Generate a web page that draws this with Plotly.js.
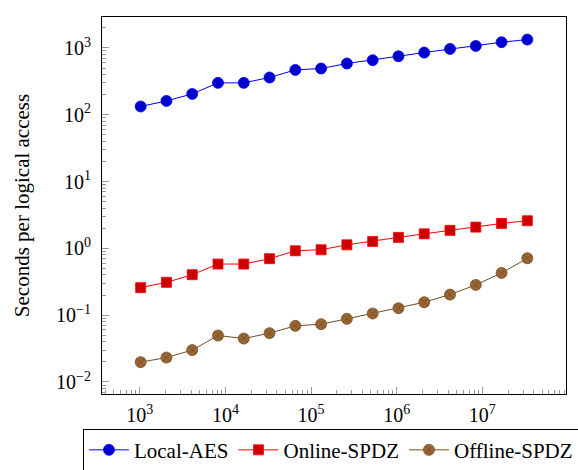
<!DOCTYPE html>
<html>
<head>
<meta charset="utf-8">
<script src="https://cdn.plot.ly/plotly-3.0.1.min.js"></script>
<style>html,body{margin:0;padding:0;background:#fff;}#chart{width:578px;height:470px;}</style>
</head>
<body>
<div id="chart"></div>
<script>
// Number of logical blocks (2^10 .. 2^25)
const sizes = [1024, 2048, 4096, 8192, 16384, 32768, 65536, 131072, 262144, 524288,
  1048576, 2097152, 4194304, 8388608, 16777216, 33554432];
const localAES = [133, 161, 205, 300, 300, 361, 469, 492, 585, 655, 751, 853, 966, 1071, 1217, 1335];
const onlineSPDZ = [0.258, 0.310, 0.403, 0.582, 0.582, 0.700, 0.920, 0.953, 1.13, 1.27, 1.46, 1.65, 1.86, 2.08, 2.36, 2.59];
const offlineSPDZ = [0.0198, 0.0232, 0.030, 0.0496, 0.0447, 0.0538, 0.0692, 0.0733, 0.0881, 0.106, 0.127, 0.156, 0.203, 0.284, 0.428, 0.711];
const seriesNames = ['Local-AES', 'Online-SPDZ', 'Offline-SPDZ'];
const yTitle = 'Seconds per logical access';

const xTickVals = [1e3, 1e4, 1e5, 1e6, 1e7];
const xTickText = ['10<sup>3</sup>', '10<sup>4</sup>', '10<sup>5</sup>', '10<sup>6</sup>', '10<sup>7</sup>'];
const yTickVals = [1e-2, 1e-1, 1e0, 1e1, 1e2, 1e3];
const yTickText = ['10<sup>\u22122</sup>', '10<sup>\u22121</sup>', '10<sup>0</sup>', '10<sup>1</sup>', '10<sup>2</sup>', '10<sup>3</sup>'];

const font = '"Liberation Serif", "Times New Roman", serif';

const traces = [
  {x: sizes, y: localAES, name: seriesNames[0], mode: 'lines+markers', type: 'scatter',
   line: {color: 'rgb(0,0,255)', width: 1},
   marker: {symbol: 'circle', size: 11, color: 'rgb(0,0,204)', line: {color: 'rgb(0,0,255)', width: 0.8}}},
  {x: sizes, y: onlineSPDZ, name: seriesNames[1], mode: 'lines+markers', type: 'scatter',
   line: {color: 'rgb(255,0,0)', width: 1},
   marker: {symbol: 'square', size: 10, color: 'rgb(204,0,0)', line: {color: 'rgb(255,0,0)', width: 0.8}}},
  {x: sizes, y: offlineSPDZ, name: seriesNames[2], mode: 'lines+markers', type: 'scatter',
   line: {color: 'rgb(115,77,38)', width: 1},
   marker: {symbol: 'circle-x', size: 11, color: 'rgb(153,102,51)', line: {color: 'rgb(115,77,38)', width: 0.8}}}
];

const layout = {
  width: 578, height: 470,
  margin: {l: 102, r: 12, t: 17, b: 76, autoexpand: false},
  paper_bgcolor: '#fff', plot_bgcolor: '#fff',
  font: {family: font, size: 21, color: '#000'},
  showlegend: true,
  xaxis: {
    type: 'log', range: [2.559, 7.977],
    tickmode: 'array', tickvals: xTickVals, ticktext: xTickText,
    showgrid: false, zeroline: false,
    showline: true, mirror: true, linecolor: '#000', linewidth: 1,
    ticks: 'inside', ticklen: 7, tickcolor: '#999', tickwidth: 1,
    minor: {ticks: 'inside', ticklen: 4, tickcolor: '#999', dtick: 'D1', showgrid: false},
    tickfont: {family: font, size: 20}, ticklabelstandoff: 3
  },
  yaxis: {
    type: 'log', range: [-2.18, 3.463],
    tickmode: 'array', tickvals: yTickVals, ticktext: yTickText,
    showgrid: false, zeroline: false,
    showline: true, mirror: true, linecolor: '#000', linewidth: 1,
    ticks: 'inside', ticklen: 7, tickcolor: '#999', tickwidth: 1,
    minor: {ticks: 'inside', ticklen: 4, tickcolor: '#999', dtick: 'D1', showgrid: false},
    tickfont: {family: font, size: 20}, ticklabelstandoff: 6,
    title: {text: yTitle, font: {family: font, size: 21}, standoff: 20}
  },
  legend: {
    orientation: 'h', x: -0.041, xanchor: 'left', y: -0.092, yanchor: 'top',
    bordercolor: '#000', borderwidth: 1, bgcolor: '#fff', itemwidth: 40,
    font: {family: font, size: 21}
  }
};

Plotly.newPlot('chart', traces, layout, {displayModeBar: false, staticPlot: true});
</script>
</body>
</html>
